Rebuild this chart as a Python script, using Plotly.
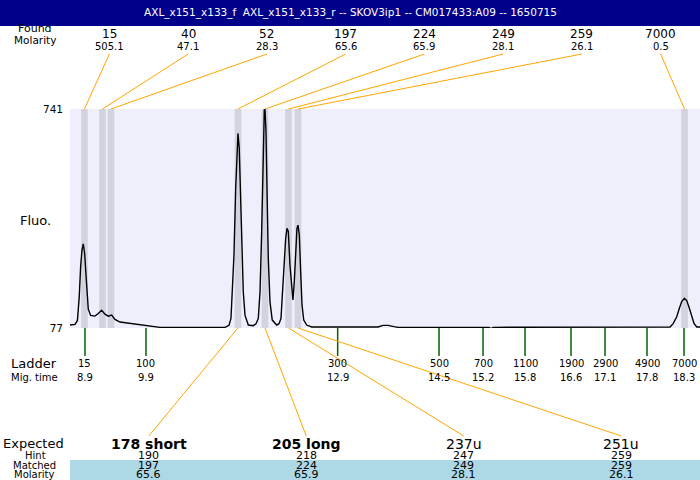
import plotly.graph_objects as go

# ---------------- data ----------------
title_text = "AXL_x151_x133_f&nbsp;&nbsp;AXL_x151_x133_r -- SKOV3ip1 -- CM017433:A09 -- 1650715"

trace_time = [8.665, 8.743, 8.782, 8.810, 8.832, 8.853, 8.873, 8.895, 8.911, 8.931,
              8.952, 8.989, 9.057, 9.109, 9.162, 9.214, 9.266, 9.319, 9.371, 9.450,
              9.606, 9.763, 9.920, 10.077, 11.098, 11.161, 11.192, 11.212, 11.239, 11.266,
              11.286, 11.302, 11.322, 11.338, 11.360, 11.385, 11.412, 11.464, 11.542, 11.585,
              11.621, 11.648, 11.674, 11.694, 11.715, 11.726, 11.742, 11.762, 11.778, 11.804,
              11.840, 11.910, 11.946, 11.977, 12.013, 12.051, 12.071, 12.092, 12.118, 12.145,
              12.165, 12.186, 12.208, 12.228, 12.244, 12.265, 12.286, 12.307, 12.334, 12.381,
              12.459, 13.500, 13.579, 13.657, 13.751, 13.814, 15.243, 15.274, 15.306, 18.053,
              18.085, 18.136, 18.190, 18.231, 18.268, 18.309, 18.347, 18.388, 18.425, 18.461,
              18.504, 18.556]
trace_fluo = [86, 88, 100, 172, 263, 313, 332, 303, 253, 182,
              134, 115, 113, 121, 131, 119, 113, 116, 103, 95,
              91, 86, 81, 79, 79, 85, 106, 187, 298, 501,
              622, 667, 622, 501, 329, 187, 116, 86, 84, 90,
              106, 187, 369, 602, 738, 741, 672, 450, 288, 157,
              101, 86, 90, 106, 228, 349, 379, 370, 268, 187,
              162, 217, 329, 379, 389, 359, 248, 147, 101, 86,
              80, 80, 85, 85, 81, 79, 79, 75, 79, 79,
              80, 91, 111, 137, 157, 167, 160, 137, 111, 91,
              80, 80]

found_time = [8.891, 9.175, 9.308, 11.302, 11.726, 12.095, 12.244, 18.312]
found_size = ["15", "40", "52", "197", "224", "249", "259", "7000"]
found_molarity = ["505.1", "47.1", "28.3", "65.6", "65.9", "28.1", "26.1", "0.5"]

ladder_size = ["15", "100", "300", "500", "700", "1100", "1900", "2900", "4900", "7000"]
ladder_time = [8.900, 9.858, 12.867, 14.458, 15.149, 15.808, 16.530, 17.064, 17.723, 18.304]
ladder_time_label = ["8.9", "9.9", "12.9", "14.5", "15.2", "15.8", "16.6", "17.1", "17.8", "18.3"]

expected_label = ["178 short", "205 long", "237u", "251u"]
expected_bold = [True, True, False, False]
expected_hint = ["190", "218", "247", "259"]
expected_matched = ["197", "224", "249", "259"]
expected_molarity = ["65.6", "65.9", "28.1", "26.1"]
expected_peak_index = [3, 4, 5, 6]

y_range = [77, 741]
x_range = [8.665, 18.555]

# ---------------- layout helpers ----------------
W, H = 700, 480
ML, MR, MT, MB = 70, 0, 109, 152
PW, PH = W - ML - MR, H - MT - MB
FONT = "DejaVu Sans"
BAND_W = 0.105


def px(xp):
    return (xp - ML) / PW


def py(yp):
    return (H - MB - yp) / PH


def t2p(t):
    return (t - x_range[0]) / (x_range[1] - x_range[0])


fig = go.Figure()
fig.add_trace(go.Scatter(x=trace_time, y=trace_fluo, mode="lines",
                         line=dict(color="black", width=1.4),
                         hoverinfo="skip", showlegend=False))

shapes = []
annotations = []


def txt(x, y, s, size, color="black", bold=False, xanchor="center"):
    if bold:
        s = "<b>" + s + "</b>"
    annotations.append(dict(x=px(x), y=py(y), xref="paper", yref="paper", text=s,
                            showarrow=False, xanchor=xanchor, yanchor="middle",
                            font=dict(family=FONT, size=size, color=color)))


# title bar
shapes.append(dict(type="rect", xref="paper", yref="paper", x0=px(0), x1=px(W),
                   y0=py(26), y1=py(0), fillcolor="#00008B", line=dict(width=0), layer="above"))
txt(350, 12, title_text, 10.5, color="white")

# found peak bands
for t in found_time:
    shapes.append(dict(type="rect", xref="x", yref="paper", x0=t - BAND_W / 2, x1=t + BAND_W / 2,
                       y0=0, y1=1, fillcolor="#D3D3E0", line=dict(width=0), layer="below"))

# top labels
txt(35, 28, "Found", 11)
txt(35, 40, "Molarity", 10.5)
n = len(found_size)
for i in range(n):
    lx = ML + PW * (i + 0.5) / n
    txt(lx, 34, found_size[i], 12)
    txt(lx, 47, found_molarity[i], 10)
    shapes.append(dict(type="line", xref="paper", yref="paper", x0=px(lx), y0=py(54),
                       x1=t2p(found_time[i]), y1=1, line=dict(color="#FFA500", width=1)))

# y axis label
txt(35, 220, "Fluo.", 13)

# ladder
txt(34, 363, "Ladder", 13)
txt(34, 377, "Mig. time", 10)
for i in range(len(ladder_size)):
    shapes.append(dict(type="line", xref="x", yref="paper", x0=ladder_time[i], x1=ladder_time[i],
                       y0=0, y1=py(356), line=dict(color="#006400", width=1.5)))
    annotations.append(dict(x=ladder_time[i], y=py(363), xref="x", yref="paper",
                            text=ladder_size[i], showarrow=False, xanchor="center", yanchor="middle",
                            font=dict(family=FONT, size=10, color="black")))
    annotations.append(dict(x=ladder_time[i], y=py(377), xref="x", yref="paper",
                            text=ladder_time_label[i], showarrow=False, xanchor="center", yanchor="middle",
                            font=dict(family=FONT, size=10, color="black")))

# matched band
shapes.append(dict(type="rect", xref="paper", yref="paper", x0=0, x1=1,
                   y0=py(480), y1=py(460), fillcolor="#ADD8E6", line=dict(width=0), layer="below"))

# expected section
txt(33, 443, "Expected", 13)
txt(35, 455, "Hint", 10)
txt(34, 465, "Matched", 10)
txt(34, 474.5, "Molarity", 10)
m = len(expected_label)
for i in range(m):
    ex = ML + PW * (i + 0.5) / m
    txt(ex, 444, expected_label[i], 14, bold=expected_bold[i])
    txt(ex, 455, expected_hint[i], 11)
    txt(ex, 465, expected_matched[i], 11)
    txt(ex, 474.5, expected_molarity[i], 11)
    pk = found_time[expected_peak_index[i]]
    shapes.append(dict(type="line", xref="paper", yref="paper", x0=px(ex), y0=py(436),
                       x1=t2p(pk), y1=0, line=dict(color="#FFA500", width=1)))

fig.update_layout(
    width=W, height=H, autosize=False,
    margin=dict(l=ML, r=MR, t=MT, b=MB, pad=0),
    paper_bgcolor="white", plot_bgcolor="#EFEFFB",
    font=dict(family=FONT, color="black"),
    xaxis=dict(range=x_range, showticklabels=False, ticks="", showgrid=False,
               zeroline=False, showline=False, fixedrange=True),
    yaxis=dict(range=y_range, tickvals=y_range, ticktext=[str(v) for v in y_range],
               ticks="", showgrid=False, zeroline=False, showline=False,
               tickfont=dict(family=FONT, size=10.5, color="black"), ticklabelstandoff=6,
               fixedrange=True),
    shapes=shapes, annotations=annotations, showlegend=False,
)

fig.write_html("out.html", config={"displayModeBar": False},
               post_script="document.body.style.margin='0';document.body.style.overflow='hidden';")
